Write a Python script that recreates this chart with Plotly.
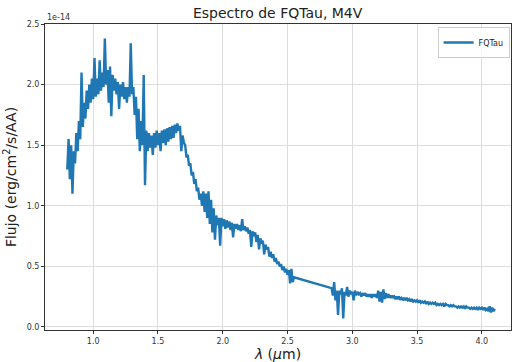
import plotly.graph_objects as go

# FQTau spectrum, M4V. Flux in units of 1e-14 erg/cm^2/s/AA, wavelength in micron.
WAVE_NIR = [
    0.80, 0.81, 0.82, 0.83, 0.84, 0.85, 0.86, 0.87, 0.88, 0.89,
    0.90, 0.91, 0.92, 0.93, 0.94, 0.95, 0.96, 0.97, 0.98, 0.99,
    1.00, 1.01, 1.02, 1.03, 1.04, 1.05, 1.06, 1.07, 1.08, 1.09,
    1.10, 1.11, 1.12, 1.13, 1.14, 1.15, 1.16, 1.17, 1.18, 1.19,
    1.20, 1.21, 1.22, 1.23, 1.24, 1.25, 1.26, 1.27, 1.28, 1.29,
    1.30, 1.31, 1.32, 1.33, 1.34, 1.35, 1.36, 1.37, 1.38, 1.39,
    1.40, 1.41, 1.42, 1.43, 1.44, 1.45, 1.46, 1.47, 1.48, 1.49,
    1.50, 1.51, 1.52, 1.53, 1.54, 1.55, 1.56, 1.57, 1.58, 1.59,
    1.60, 1.61, 1.62, 1.63, 1.64, 1.65, 1.66, 1.67, 1.68, 1.69,
    1.70, 1.71, 1.72, 1.73, 1.74, 1.75, 1.76, 1.77, 1.78, 1.79,
    1.80, 1.81, 1.82, 1.83, 1.84, 1.85, 1.86, 1.87, 1.88, 1.89,
    1.90, 1.91, 1.92, 1.93, 1.94, 1.95, 1.96, 1.97, 1.98, 1.99,
    2.00, 2.01, 2.02, 2.03, 2.04, 2.05, 2.06, 2.07, 2.08, 2.09,
    2.10, 2.11, 2.12, 2.13, 2.14, 2.15, 2.16, 2.17, 2.18, 2.19,
    2.20, 2.21, 2.22, 2.23, 2.24, 2.25, 2.26, 2.27, 2.28, 2.29,
    2.30, 2.31, 2.32, 2.33, 2.34, 2.35, 2.36, 2.37, 2.38, 2.39,
    2.40, 2.41, 2.42, 2.43, 2.44, 2.45, 2.46, 2.47, 2.48, 2.49,
    2.50, 2.51, 2.52, 2.53, 2.54, 2.55,
]
FLUX_NIR = [
    1.30, 1.55, 1.22, 1.50, 1.10, 1.45, 1.35, 1.60, 1.45, 1.70,
    1.55, 2.10, 1.65, 1.85, 1.72, 1.95, 1.80, 2.00, 1.85, 2.05,
    1.88, 2.22, 1.90, 2.05, 1.92, 2.20, 1.95, 2.10, 1.98, 2.38,
    2.00, 2.12, 1.85, 2.15, 1.74, 2.08, 1.95, 2.05, 1.92, 2.02,
    1.80, 2.00, 1.90, 2.02, 1.88, 1.98, 1.85, 1.98, 1.90, 2.34,
    1.92, 1.98, 1.75, 1.90, 1.55, 1.80, 1.45, 1.70, 1.50, 2.08,
    1.17, 1.62, 1.45, 1.60, 1.48, 1.58, 1.42, 1.60, 1.48, 1.62,
    1.50, 1.60, 1.45, 1.62, 1.52, 1.63, 1.50, 1.64, 1.53, 1.65,
    1.55, 1.66, 1.56, 1.67, 1.60, 1.68, 1.62, 1.66, 1.45, 1.58,
    1.52, 1.50, 1.40, 1.42, 1.33, 1.35, 1.25, 1.28, 1.18, 1.22,
    1.12, 1.15, 1.05, 1.10, 1.00, 1.12, 0.95, 1.10, 0.90, 1.12,
    0.85, 1.05, 0.78, 0.98, 0.72, 0.92, 0.84, 0.90, 0.67, 0.90,
    0.83, 0.89, 0.81, 0.88, 0.82, 0.87, 0.80, 0.86, 0.74, 0.85,
    0.81, 0.85, 0.80, 0.84, 0.79, 0.89, 0.80, 0.83, 0.79, 0.82,
    0.77, 0.80, 0.66, 0.79, 0.75, 0.78, 0.70, 0.76, 0.64, 0.73,
    0.70, 0.71, 0.60, 0.68, 0.64, 0.66, 0.58, 0.62, 0.57, 0.60,
    0.54, 0.57, 0.52, 0.54, 0.50, 0.52, 0.47, 0.50, 0.45, 0.48,
    0.43, 0.47, 0.36, 0.48, 0.37, 0.41,
]

WAVE_MIR = [
    2.84, 2.85, 2.86, 2.87, 2.88, 2.89, 2.90, 2.91, 2.92, 2.93,
    2.94, 2.95, 2.96, 2.97, 2.98, 2.99, 3.00, 3.01, 3.02, 3.03,
    3.04, 3.05, 3.06, 3.07, 3.08, 3.09, 3.10, 3.11, 3.12, 3.13,
    3.14, 3.15, 3.16, 3.17, 3.18, 3.19, 3.20, 3.21, 3.22, 3.23,
    3.24, 3.25, 3.26, 3.27, 3.28, 3.29, 3.30, 3.31, 3.32, 3.33,
    3.34, 3.35, 3.36, 3.37, 3.38, 3.39, 3.40, 3.41, 3.42, 3.43,
    3.44, 3.45, 3.46, 3.47, 3.48, 3.49, 3.50, 3.51, 3.52, 3.53,
    3.54, 3.55, 3.56, 3.57, 3.58, 3.59, 3.60, 3.61, 3.62, 3.63,
    3.64, 3.65, 3.66, 3.67, 3.68, 3.69, 3.70, 3.71, 3.72, 3.73,
    3.74, 3.75, 3.76, 3.77, 3.78, 3.79, 3.80, 3.81, 3.82, 3.83,
    3.84, 3.85, 3.86, 3.87, 3.88, 3.89, 3.90, 3.91, 3.92, 3.93,
    3.94, 3.95, 3.96, 3.97, 3.98, 3.99, 4.00, 4.01, 4.02, 4.03,
    4.04, 4.05, 4.06, 4.07, 4.08, 4.09, 4.10,
]
FLUX_MIR = [
    0.32, 0.26, 0.37, 0.22, 0.30, 0.10, 0.30, 0.27, 0.32, 0.07,
    0.29, 0.26, 0.33, 0.25, 0.30, 0.27, 0.29, 0.22, 0.30, 0.26,
    0.29, 0.27, 0.28, 0.25, 0.28, 0.26, 0.28, 0.25, 0.27, 0.25,
    0.27, 0.24, 0.27, 0.25, 0.27, 0.24, 0.30, 0.21, 0.29, 0.20,
    0.31, 0.23, 0.28, 0.24, 0.27, 0.24, 0.26, 0.24, 0.26, 0.23,
    0.25, 0.23, 0.25, 0.23, 0.24, 0.22, 0.24, 0.22, 0.24, 0.22,
    0.23, 0.21, 0.23, 0.21, 0.22, 0.21, 0.22, 0.20, 0.22, 0.20,
    0.21, 0.20, 0.21, 0.19, 0.21, 0.19, 0.20, 0.19, 0.20, 0.19,
    0.20, 0.18, 0.19, 0.18, 0.19, 0.18, 0.19, 0.17, 0.19, 0.18,
    0.18, 0.17, 0.18, 0.17, 0.18, 0.17, 0.17, 0.16, 0.17, 0.16,
    0.17, 0.16, 0.17, 0.15, 0.17, 0.16, 0.16, 0.15, 0.16, 0.15,
    0.16, 0.15, 0.16, 0.14, 0.16, 0.15, 0.16, 0.14, 0.16, 0.14,
    0.15, 0.13, 0.17, 0.12, 0.16, 0.13, 0.15,
]

X_TICKS = [1.0, 1.5, 2.0, 2.5, 3.0, 3.5, 4.0]
Y_TICKS = [0.0, 0.5, 1.0, 1.5, 2.0, 2.5]

wave = WAVE_NIR + WAVE_MIR
flux = FLUX_NIR + FLUX_MIR

FONT = "DejaVu Sans"
BLUE = "#1f77b4"

fig = go.Figure()
fig.add_trace(go.Scatter(
    x=wave, y=flux, mode="lines", name="FQTau",
    line=dict(color=BLUE, width=2.4),
))

axis_common = dict(
    showline=True, linecolor="#333333", linewidth=1, mirror=True,
    showgrid=True, gridcolor="#dddddd", gridwidth=1,
    ticks="outside", ticklen=3, tickcolor="#333333",
    tickfont=dict(family=FONT, size=8, color="#333333"),
    zeroline=False,
)

fig.update_layout(
    width=517, height=362,
    margin=dict(l=45, r=6, t=24, b=32),
    paper_bgcolor="white", plot_bgcolor="white",
    font=dict(family=FONT, color="#222222"),
    title=dict(text="Espectro de FQTau, M4V", x=0.537, xanchor="center",
               y=0.965, yanchor="middle",
               font=dict(family=FONT, size=14, color="#222222")),
    xaxis=dict(range=[0.628, 4.225], tickvals=X_TICKS, tickformat=".1f",
               title=dict(text="<i>λ</i> (<i>μ</i>m)", standoff=2,
                          font=dict(family=FONT, size=14, color="#222222")),
               **axis_common),
    yaxis=dict(range=[-0.025, 2.5], tickvals=Y_TICKS, tickformat=".1f",
               title=dict(text="Flujo (erg/cm<sup>2</sup>/s/AA)", standoff=6,
                          font=dict(family=FONT, size=14, color="#222222")),
               **axis_common),
    showlegend=True,
    legend=dict(x=0.997, xanchor="right", y=0.99, yanchor="top",
                bgcolor="rgba(255,255,255,0.8)", bordercolor="#cccccc",
                borderwidth=1, font=dict(family=FONT, size=8, color="#222222"),
                itemwidth=30),
)

fig.add_annotation(text="1e-14", xref="paper", yref="paper", x=0.0, y=1.0,
                   xanchor="left", yanchor="bottom", showarrow=False,
                   font=dict(family=FONT, size=8, color="#333333"))

fig.write_html("out.html")
